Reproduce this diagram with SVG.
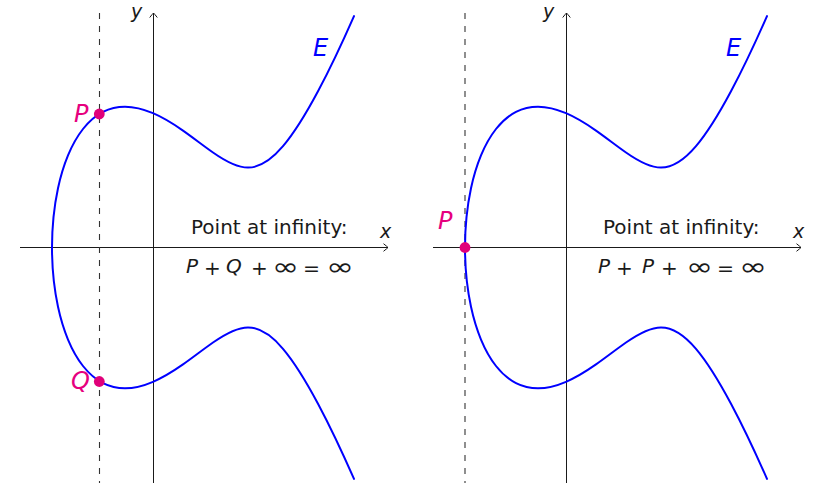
<svg xmlns="http://www.w3.org/2000/svg" xmlns:xlink="http://www.w3.org/1999/xlink" width="814" height="485" viewBox="0 0 814 485">
<style>
.axis{stroke:#1a1a1a;stroke-width:1;fill:none}
.dash{stroke:#333;stroke-width:1.1;fill:none;stroke-dasharray:6 7}
.curve{stroke:#0000ff;stroke-width:2;fill:none;stroke-linejoin:round;stroke-linecap:round}
.dot{fill:#e0007a}
.lbl{font-family:"DejaVu Sans",sans-serif;font-size:20px;fill:#1a1a1a}
.ax{font-family:"DejaVu Sans",sans-serif;font-size:19px;font-style:italic;fill:#1a1a1a}
.inf{font-size:24px}
.it{font-style:italic}
.big{font-family:"DejaVu Sans",sans-serif;font-size:24px;font-style:italic}
.mag{fill:#e6007e}
.blue{fill:#0000ff}
</style>
<defs>
<marker id="arr" markerUnits="userSpaceOnUse" markerWidth="12" markerHeight="12" refX="0" refY="0" viewBox="-6 -6 12 12" orient="auto" overflow="visible">
<path d="M-4.5,-3.8 Q-1.2,-1.2 0,0 Q-1.2,1.2 -4.5,3.8" fill="none" stroke="#1a1a1a" stroke-width="1"/>
</marker>
<path id="E" class="curve" d="M354,16.1 C342,43.38 330,68.81 318,91.3 C306.33,113.16 294.67,132.4 283,146.2 C271.33,160 259.67,167.6 248,167.6 C236.33,167.6 224.67,160.69 213,152.5 C203,145.48 193,137.59 183,130.6 C173,123.61 163,117.49 153,113.2 C143.67,109.2 134.33,106.7 125,106.7 C117.67,106.7 110.33,108.16 103,111.9 C96.33,115.3 89.67,120.55 83,129 C78,135.34 73,143.33 68,155.4 C64.67,163.45 61.33,172.7 58,188.2 C53.8,207.8 52,227.5 52,247.5 C52,267.5 53.8,287.2 58,306.8 C61.33,322.3 64.67,331.550 68,339.6 C73,351.67 78,359.66 83,366 C89.67,374.45 96.33,379.7 103,383.1 C110.33,386.84 117.67,388.3 125,388.3 C134.33,388.3 143.67,385.8 153,381.8 C163,377.51 173,371.39 183,364.4 C193,357.41 203,349.52 213,342.5 C224.67,334.31 236.33,327.4 248,327.4 C259.67,327.4 271.33,335 283,348.8 C294.67,362.6 306.33,381.84 318,403.7 C330,426.19 342,451.62 354,478.9"/>
</defs>

<g id="connectors">
<line class="axis" x1="20" y1="247.5" x2="388" y2="247.5" marker-end="url(#arr)"/>
<line class="axis" x1="153.5" y1="483" x2="153.5" y2="13" marker-end="url(#arr)"/>
<line class="dash" x1="99.5" y1="13" x2="99.5" y2="483"/>
<line class="axis" x1="433" y1="247.5" x2="801" y2="247.5" marker-end="url(#arr)"/>
<line class="axis" x1="566.5" y1="483" x2="566.5" y2="13" marker-end="url(#arr)"/>
<line class="dash" x1="465" y1="13" x2="465" y2="483"/>
</g>

<g id="curve-left"><use xlink:href="#E" href="#E"/></g>
<g id="curve-right"><use xlink:href="#E" href="#E" transform="translate(413,0)"/></g>

<g id="left-labels">
<text class="ax" x="131" y="17.5">y</text>
<text class="ax" x="380" y="238">x</text>
<text class="big blue" x="313" y="56">E</text>
<text class="lbl" x="191" y="233.5">Point at infinity:</text>
<text class="lbl it" x="186" y="273">P</text>
<text class="lbl" x="204" y="274.5">+</text>
<text class="lbl it" x="226" y="273">Q</text>
<text class="lbl" x="251" y="274.5">+</text>
<text class="lbl inf" x="272" y="275" textLength="27" lengthAdjust="spacingAndGlyphs">∞</text>
<text class="lbl" x="303" y="274.5" textLength="17" lengthAdjust="spacingAndGlyphs">=</text>
<text class="lbl inf" x="326" y="275" textLength="28" lengthAdjust="spacingAndGlyphs">∞</text>
</g>

<g id="node-P">
<circle class="dot" cx="99.3" cy="114" r="5.4"/>
<text class="big mag" x="74" y="122">P</text>
</g>
<g id="node-Q">
<circle class="dot" cx="99.3" cy="381.5" r="5.4"/>
<text class="big mag" x="71" y="389">Q</text>
</g>

<g id="right-labels">
<text class="ax" x="543" y="17.5">y</text>
<text class="ax" x="793" y="238">x</text>
<text class="big blue" x="726" y="56">E</text>
<text class="lbl" x="603" y="233.5">Point at infinity:</text>
<text class="lbl it" x="598" y="273">P</text>
<text class="lbl" x="616" y="274.5">+</text>
<text class="lbl it" x="642" y="273">P</text>
<text class="lbl" x="661" y="274.5">+</text>
<text class="lbl inf" x="686" y="275" textLength="27" lengthAdjust="spacingAndGlyphs">∞</text>
<text class="lbl" x="717" y="274.5" textLength="17" lengthAdjust="spacingAndGlyphs">=</text>
<text class="lbl inf" x="739" y="275" textLength="28" lengthAdjust="spacingAndGlyphs">∞</text>
</g>

<g id="node-P2">
<circle class="dot" cx="465" cy="247.5" r="5.4"/>
<text class="big mag" x="438" y="229">P</text>
</g>
</svg>
